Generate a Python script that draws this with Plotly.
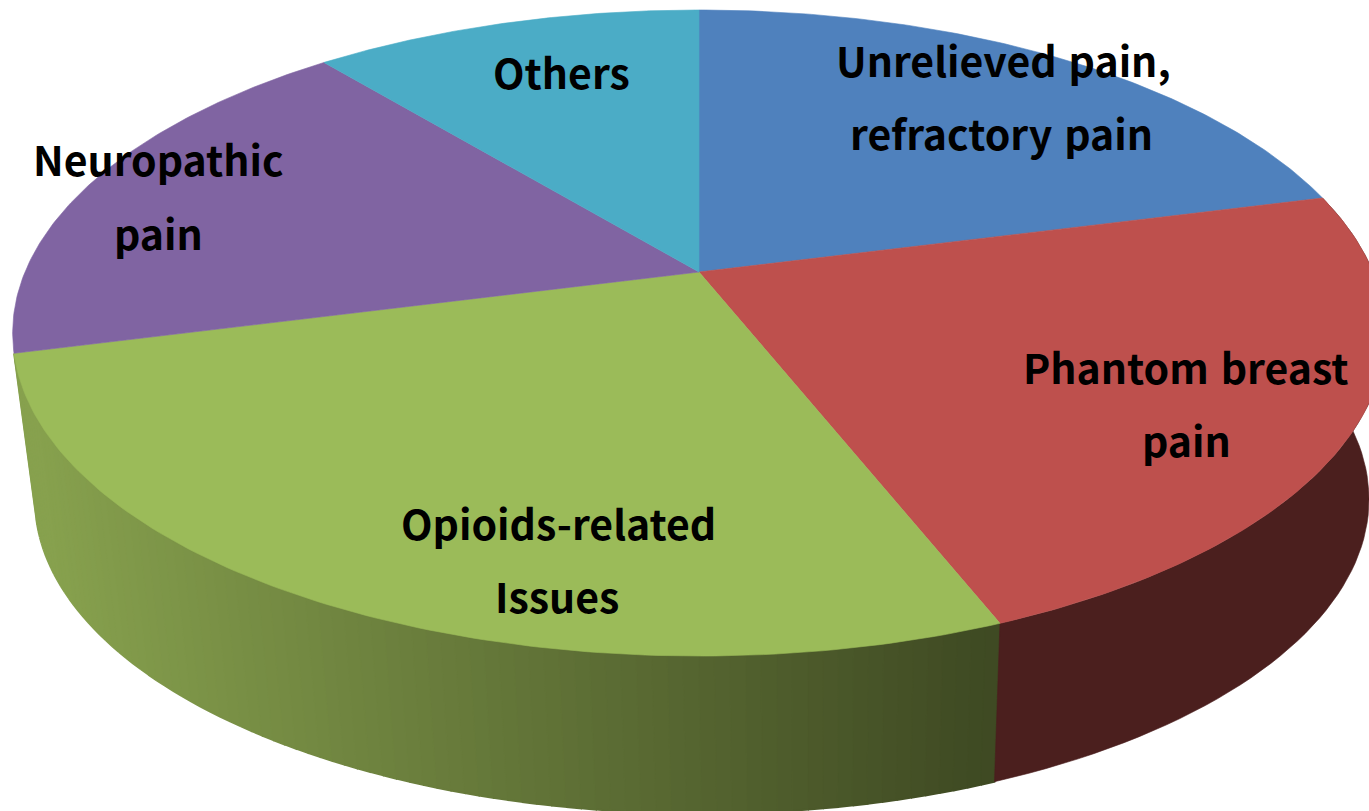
import numpy as np
import plotly.graph_objects as go

categories = ["Unrelieved\u200a pain,<br>refractory\u200a pain", "Phantom\u200a breast<br>pain", "Opioids-related<br>Issues", "Neuropathic<br>pain", "Others"]
shares = [21, 23, 27, 18, 11]
top_colors = ["#4F81BD", "#BE504D", "#9BBB59", "#8064A2", "#4BACC6"]

W, H = 1369, 811
K = 0.1889
TOP = dict(cx=699, cy=272, a=311.5, b=674)
BOT = dict(cx=702, cy=440, a=303, b=655)


def project(theta, plane):
    X, Y = np.sin(theta), np.cos(theta)
    d = 1 + K * Y
    return plane["cx"] + plane["b"] * X / d, plane["cy"] - plane["a"] * Y / d


edges = np.cumsum([0] + shares) / sum(shares) * 2 * np.pi
fig = go.Figure()


def poly(x, y, color, width=0.6):
    fig.add_trace(go.Scatter(x=x, y=y, mode="lines", fill="toself", fillcolor=color,
                             line=dict(color=color, width=width), hoverinfo="skip", showlegend=False))


# side wall of the green slice, shaded in strips
light, dark = np.array([0x87, 0xA1, 0x4E]), np.array([0x3F, 0x4A, 0x23])
t = np.linspace(edges[3], edges[2], 91)
for t0, t1 in zip(t[:-1], t[1:]):
    seg = np.array([t0, t1])
    xt, yt = project(seg, TOP)
    xb, yb = project(seg, BOT)
    f = np.clip((xt.mean() - 990) / (40 - 990), 0, 1)
    c = dark + (light - dark) * f
    poly(np.r_[xt, xb[::-1]].tolist(), np.r_[yt, yb[::-1]].tolist(),
         "rgb(%d,%d,%d)" % tuple(c), width=2)

# side wall of the red slice
t = np.linspace(edges[1], edges[2], 60)
xt, yt = project(t, TOP)
xb, yb = project(t, BOT)
poly(np.r_[xt, xb[::-1]].tolist(), np.r_[yt, yb[::-1]].tolist(), "#4B1F1E")

# top faces
for i, col in enumerate(top_colors):
    t = np.linspace(edges[i], edges[i + 1], 120)
    x, y = project(t, TOP)
    poly(np.r_[TOP["cx"], x, TOP["cx"]].tolist(), np.r_[TOP["cy"], y, TOP["cy"]].tolist(), col)

label_xy = [[(1003, 59), (1001, 132)], [(1186, 366), (1186, 439)], [(558, 522), (557, 595)],
            [(158, 158), (158, 232)], [(561, 71)]]
for name, spots in zip(categories, label_xy):
    for line, (lx, ly) in zip(name.split("<br>"), spots):
        fig.add_annotation(x=lx, y=ly, text=line, showarrow=False, align="center",
                           xanchor="center", yanchor="middle",
                           font=dict(family="Noto Sans CJK KR", size=41, color="#000000", weight="bold"))

fig.update_layout(width=W, height=H, autosize=False, margin=dict(l=0, r=0, t=0, b=0),
                  paper_bgcolor="white", plot_bgcolor="white", showlegend=False)
fig.update_xaxes(range=[0, W], visible=False)
fig.update_yaxes(range=[H, 0], visible=False)
fig.write_html("out.html", config=dict(displayModeBar=False),
               post_script="document.body.style.margin='0';document.documentElement.style.overflow='hidden';")
